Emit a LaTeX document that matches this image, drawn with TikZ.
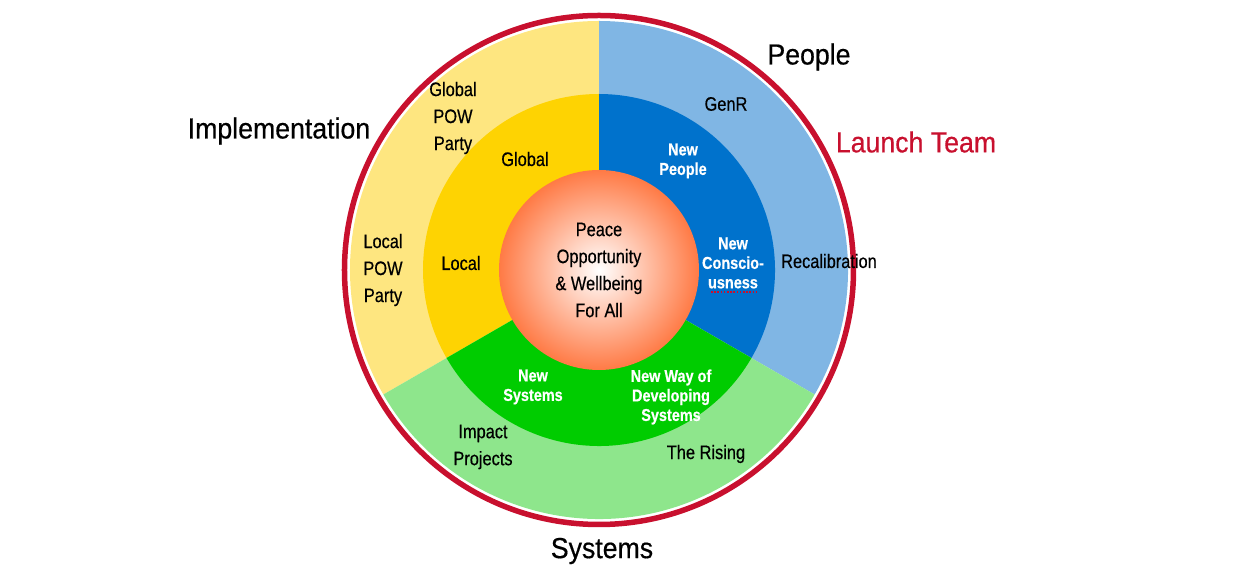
\documentclass[tikz,border=0pt]{standalone}
\usepackage{fontspec}
\setmainfont[FakeStretch=0.84, FakeBold=0.5]{Liberation Sans}
\newfontfamily\bigfont[FakeStretch=0.92, FakeBold=0.5]{Liberation Sans}

\definecolor{lyellow}{HTML}{FEE680}
\definecolor{myyellow}{HTML}{FED302}
\definecolor{lblue}{HTML}{80B6E4}
\definecolor{myblue}{HTML}{0072CC}
\definecolor{lgreen}{HTML}{8EE68C}
\definecolor{mygreen}{HTML}{00CC00}
\definecolor{ringred}{HTML}{C8102E}
\definecolor{coral}{HTML}{FF7A45}

\begin{document}
\begin{tikzpicture}[x=0.5pt,y=0.5pt]

      \useasboundingbox (-599,-317) rectangle (655,270);

      % outer and middle rings
      \foreach \a/\lc/\dc in {-30/lblue/myblue, 90/lyellow/myyellow, 210/lgreen/mygreen} {
        \fill[\lc] (0,0) -- (\a:124.5pt) arc[start angle=\a, end angle=\a+120, radius=124.5pt] -- cycle;
        \fill[\dc] (0,0) -- (\a:88pt) arc[start angle=\a, end angle=\a+120, radius=88pt] -- cycle;
      }

      \shade[inner color=white, outer color=coral] (0,0) circle[radius=50pt];
      \draw[ringred, line width=2.75pt] (0,0) circle[radius=127.25pt];

      \begin{scope}[every node/.style={align=center, font=\fontsize{9.75}{13.5}\selectfont}]
        \node (peace)  at (0,0)       {Peace\\Opportunity\\\& Wellbeing\\For All};
        \node (genr)   at (127,166)   {GenR};
        \node (recal)  at (230,9)     {Recalibration};
        \node (gpow)   at (-146,152)  {Global\\POW\\Party};
        \node (lpow)   at (-216,0)    {Local\\POW\\Party};
        \node (global) at (-74,111)   {Global};
        \node (local)  at (-138,7)    {Local};
        \node (impact) at (-116,-177) {Impact\\Projects};
        \node (rising) at (107,-184)  {The Rising};
      \end{scope}

      \begin{scope}[every node/.style={align=center, text=white, font=\fontsize{8.6}{9.75}\selectfont\bfseries}]
        \node (npeople) at (84,109)   {New\\People};
        \node (ncons)   at (134,7)    {New\\Conscio-\\usness};
        \node (nsys)    at (-66,-117) {New\\Systems};
        \node (nway)    at (72,-127)  {New Way of\\Developing\\Systems};
      \end{scope}

      \draw[ringred, line width=0.8pt, dash pattern=on 0.8pt off 0.8pt] (112,-22) -- (158,-22);

      \begin{scope}[every node/.style={font=\bigfont\fontsize{14.5}{17}\selectfont}]
        \node (people)  at (210,213)  {People};
        \node (impl)    at (-320,139) {Implementation};
        \node[text=ringred] (launch) at (317,128) {Launch Team};
        \node (systems) at (3,-281)   {Systems};
      \end{scope}

    \end{tikzpicture}
\end{document}
